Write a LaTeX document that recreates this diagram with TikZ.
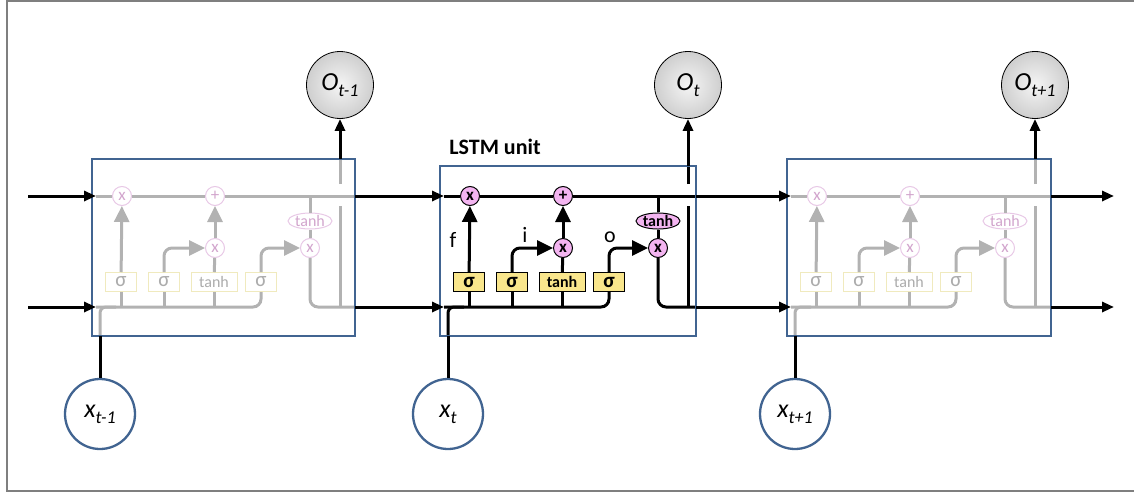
\documentclass[tikz,border=0pt]{standalone}
\usepackage{fontspec}
\setmainfont{Carlito}
\usetikzlibrary{arrows.meta,shapes.geometric}

\definecolor{unitblue}{RGB}{65,100,145}
\definecolor{framegray}{RGB}{127,127,127}
\definecolor{oppink}{RGB}{243,180,240}
\definecolor{gateyellow}{RGB}{249,230,140}
\definecolor{fadewire}{RGB}{178,178,178}
\definecolor{fadeop}{RGB}{232,200,230}
\definecolor{fadeoptext}{RGB}{210,165,205}
\definecolor{fadegate}{RGB}{240,234,190}
\definecolor{fadegatetext}{RGB}{172,172,172}

\tikzset{
  link/.style={black, line width=3pt, -{Triangle[length=12pt,width=10pt]}},
  wire/.style={black, line width=3pt},
  bighead/.style={-{Triangle[length=16pt,width=15pt]}},
  op/.style={circle, draw=black, fill=oppink, line width=1pt, minimum size=19pt,
    inner sep=0pt, font=\bfseries\fontsize{17}{17}\selectfont},
  gate/.style={rectangle, draw=black, fill=gateyellow, line width=1pt,
    minimum height=19pt, inner sep=0pt, font=\bfseries\fontsize{21}{21}\selectfont},
  tgate/.style={gate, font=\bfseries\fontsize{16}{16}\selectfont},
  squash/.style={ellipse, draw=black, fill=oppink, line width=1pt,
    minimum width=44pt, minimum height=16pt, inner sep=0pt,
    font=\bfseries\fontsize{16}{16}\selectfont},
  faded/.style={
    wire/.append style={fadewire},
    op/.append style={draw=fadeop, fill=white, text=fadeoptext, font=\fontsize{17}{17}\selectfont},
    gate/.append style={draw=fadegate, fill=white, text=fadegatetext, font=\fontsize{21}{21}\selectfont},
    tgate/.append style={font=\fontsize{16}{16}\selectfont},
    squash/.append style={draw=fadeop, fill=white, text=fadeoptext, font=\fontsize{16}{16}\selectfont}},
  cellbox/.style={draw=unitblue, line width=1.5pt},
  outnode/.style={circle, draw=black, line width=0.8pt, minimum size=67pt,
    inner color=gray!8, outer color=gray!38},
  innode/.style={circle, draw=unitblue, line width=2.3pt, fill=white, minimum size=70pt},
  gatelabel/.style={font=\fontsize{22}{22}\selectfont},
}

% label with a dropped italic subscript
\newcommand\sublabel[2]{{\fontsize{26}{26}\selectfont\itshape #1\raisebox{-6pt}{\fontsize{18}{18}\selectfont #2}}}

% one LSTM cell: name, left x, box top, box width, style
\newcommand\lstmcell[5]{%
\begin{scope}[shift={(#2,0)}, #5]
  % gates and pointwise operations
  \node[op] (#1-fx) at (30,196) {x};
  \node[op] (#1-add) at (123,196) {+};
  \node[op] (#1-ix) at (123,248) {x};
  \node[op] (#1-ox) at (218,248) {x};
  \node[squash] (#1-tc) at (218,221) {tanh};
  \node[gate, minimum width=31pt] (#1-sf) at (29,282) {σ};
  \node[gate, minimum width=31pt] (#1-si) at (72,282) {σ};
  \node[tgate, minimum width=46pt] (#1-sg) at (122,282) {tanh};
  \node[gate, minimum width=31pt] (#1-so) at (169,282) {σ};
  % ports
  \coordinate (#1-cin) at (4,196);
  \coordinate (#1-hin) at (4,307);
  \coordinate (#1-cout) at (#4,196);
  \coordinate (#1-hout) at (#4,307);
  \coordinate (#1-xin) at (8,336);
  \coordinate (#1-xjoin) at (24,307);
  \coordinate (#1-hv1) at (248,206);
  \coordinate (#1-hv2) at (248,184);
  \coordinate (#1-hup) at (248,#3);
  % cell state
  \draw[wire] (#1-cin) -- (#1-fx) -- (#1-add) -- (#1-cout);
  \draw[wire] (#1-tc |- #1-cin) -- (#1-tc);
  \draw[wire] (#1-tc) -- (#1-ox);
  % gate paths
  \draw[wire, bighead] (#1-sf) -- (#1-fx);
  \draw[wire] (#1-sg) -- (#1-ix);
  \draw[wire, bighead] (#1-ix) -- (#1-add);
  \draw[wire, bighead, rounded corners=8pt] (#1-si.north) |- (#1-ix.west);
  \draw[wire, bighead, rounded corners=8pt] (#1-so.north) |- (#1-ox.west);
  % hidden state in
  \draw[wire, rounded corners=8pt] (#1-hin) -| (#1-so.south);
  \foreach \g in {sf,si,sg}
    \draw[wire] (#1-\g.south) -- (#1-\g.south |- #1-hin);
  \draw[wire, rounded corners=6pt] (#1-xin) |- (#1-xjoin);
  % hidden state out
  \draw[wire, rounded corners=8pt] (#1-ox.south) |- (#1-hout);
  \draw[wire] (#1-hv1) -- (#1-hv1 |- #1-hout);
  \draw[wire] (#1-hv2) -- (#1-hup);
  % box
  \draw[cellbox] (0,#3) rectangle (#4,336);
\end{scope}}

\begin{document}
\begin{tikzpicture}[x=1pt,y=-1pt]
\useasboundingbox (0,0) rectangle (1134,495);

% frame
\draw[framegray, line width=2pt] (1134,1) -- (7,1) -- (7,491) -- (1134,491);

% cells
\lstmcell{a}{92}{159}{263}{faded}
\lstmcell{m}{440}{166}{256}{}
\lstmcell{b}{787}{159}{264}{faded}

% gate letters and title
\node[gatelabel] (lf) at (453,240) {f};
\node[gatelabel] (li) at (525,235) {i};
\node[gatelabel] (lo) at (610,237) {o};
\node[font=\bfseries\fontsize{22}{22}\selectfont] (title) at (495,147) {LSTM unit};

% outputs
\node[outnode] (oa) at (340,85) {\sublabel{O}{t-1}};
\node[outnode] (om) at (688,85) {\sublabel{O}{t}};
\node[outnode] (ob) at (1035,85) {\sublabel{O}{t+1}};

% inputs
\node[innode] (xa) at (100,414) {\sublabel{x}{t-1}};
\node[innode] (xm) at (448,414) {\sublabel{x}{t}};
\node[innode] (xb) at (795,414) {\sublabel{x}{t+1}};

% connectors
\coordinate (c0) at (28,196);
\coordinate (h0) at (28,307);
\coordinate (c3) at (1114,196);
\coordinate (h3) at (1114,307);
\draw[link] (c0) -- (a-cin);
\draw[link] (h0) -- (a-hin);
\draw[link] (a-cout) -- (m-cin);
\draw[link] (a-hout) -- (m-hin);
\draw[link] (m-cout) -- (b-cin);
\draw[link] (m-hout) -- (b-hin);
\draw[link] (b-cout) -- (c3);
\draw[link] (b-hout) -- (h3);

\draw[link] (a-hup) -- (oa);
\draw[link] (m-hup) -- (om);
\draw[link] (b-hup) -- (ob);

\draw[wire] (xa) -- (a-xin);
\draw[wire] (xm) -- (m-xin);
\draw[wire] (xb) -- (b-xin);

\end{tikzpicture}
\end{document}
